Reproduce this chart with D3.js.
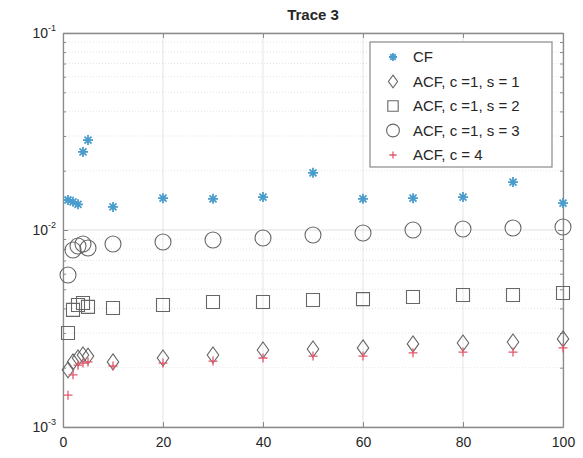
<!DOCTYPE html>
<html>
<head>
<meta charset="utf-8">
<script src="https://cdn.jsdelivr.net/npm/d3@7"></script>
<style>
  body { margin: 0; background: #fff; }
  text { font-family: "Liberation Sans", Arial, sans-serif; fill: #262626; }
</style>
</head>
<body>
<div id="vis"></div>
<script>
// sample positions shared by every series
const xs = [1, 2, 3, 4, 5, 10, 20, 30, 40, 50, 60, 70, 80, 90, 100];

const cf   = [0.0142, 0.0139, 0.0135, 0.0249, 0.0286, 0.0131, 0.0145, 0.0144, 0.0147, 0.0195, 0.0144, 0.0145, 0.0147, 0.0175, 0.0137];
const acf1 = [0.00195, 0.00214, 0.00224, 0.00232, 0.00229, 0.00214, 0.00224, 0.00232, 0.00246, 0.00249, 0.00252, 0.00264, 0.00267, 0.00270, 0.00280];
const acf2 = [0.00300, 0.00393, 0.00416, 0.00426, 0.00407, 0.00402, 0.00416, 0.00431, 0.00431, 0.00441, 0.00446, 0.00457, 0.00468, 0.00468, 0.00479];
const acf3 = [0.00591, 0.00792, 0.00829, 0.00849, 0.00810, 0.00849, 0.00869, 0.00890, 0.00911, 0.00943, 0.00966, 0.0100, 0.01012, 0.01024, 0.01036];
const acf4 = [0.00145, 0.00184, 0.00206, 0.00211, 0.00214, 0.00204, 0.00211, 0.00216, 0.00224, 0.00229, 0.00229, 0.00238, 0.00240, 0.00240, 0.00252];

const xTicks = [0, 20, 40, 60, 80, 100];
const yTicks = [1e-3, 1e-2, 1e-1];
const legendLabels = ["CF", "ACF, c =1, s = 1", "ACF, c =1, s = 2", "ACF, c =1, s = 3", "ACF, c = 4"];
const title = "Trace 3";

const width = 583, height = 458;
const margin = { top: 33, right: 20, bottom: 31, left: 63 };
const innerW = width - margin.left - margin.right;
const innerH = height - margin.top - margin.bottom;

const svg = d3.select("#vis").append("svg")
  .attr("width", width)
  .attr("height", height);

const x = d3.scaleLinear().domain([0, 100]).range([0, innerW]);
const y = d3.scaleLog().domain([1e-3, 1e-1]).range([innerH, 0]);

const g = svg.append("g")
  .attr("transform", "translate(" + margin.left + "," + margin.top + ")");

// marker shapes, MATLAB-like
const markers = {
  star: s => `M${-s},0L${s},0M0,${-s}L0,${s}M${-s * 0.7},${-s * 0.7}L${s * 0.7},${s * 0.7}M${-s * 0.7},${s * 0.7}L${s * 0.7},${-s * 0.7}`,
  diamond: s => `M0,${-s}L${s * 0.72},0L0,${s}L${-s * 0.72},0Z`,
  square: s => `M${-s},${-s}H${s}V${s}H${-s}Z`,
  circle: s => `M${s},0A${s},${s} 0 1,1 ${-s},0A${s},${s} 0 1,1 ${s},0Z`,
  plus: s => `M${-s},0L${s},0M0,${-s}L0,${s}`
};

const series = [
  { values: cf,   shape: "star",    size: 5,   color: "#4a9ccc", width: 1.8 },
  { values: acf1, shape: "diamond", size: 8,   color: "#666",    width: 1.1 },
  { values: acf2, shape: "square",  size: 6.5, color: "#666",    width: 1.1 },
  { values: acf3, shape: "circle",  size: 8,   color: "#666",    width: 1.1 },
  { values: acf4, shape: "plus",    size: 4.5, color: "#e25a6c", width: 1.3 }
];

// minor grid lines on the log axis
const minor = [];
[1e-3, 1e-2].forEach(d => { for (let k = 2; k <= 9; k++) minor.push(d * k); });
g.append("g").selectAll("line")
  .data(minor)
  .enter().append("line")
  .attr("x1", 0).attr("x2", innerW)
  .attr("y1", d => y(d)).attr("y2", d => y(d))
  .attr("stroke", "#262626").attr("stroke-opacity", 0.12)
  .attr("stroke-dasharray", "1,2");

// major grid
g.append("g").selectAll("line")
  .data(yTicks)
  .enter().append("line")
  .attr("x1", 0).attr("x2", innerW)
  .attr("y1", d => y(d)).attr("y2", d => y(d))
  .attr("stroke", "#262626").attr("stroke-opacity", 0.15);
g.append("g").selectAll("line")
  .data(xTicks)
  .enter().append("line")
  .attr("y1", 0).attr("y2", innerH)
  .attr("x1", d => x(d)).attr("x2", d => x(d))
  .attr("stroke", "#262626").attr("stroke-opacity", 0.12);

// axes, ticks pointing inward
const xAxis = g.append("g")
  .attr("transform", "translate(0," + innerH + ")")
  .call(d3.axisBottom(x).tickValues(xTicks).tickSizeInner(-5).tickSizeOuter(0).tickPadding(10));
const xTop = g.append("g")
  .call(d3.axisTop(x).tickValues(xTicks).tickSizeInner(-5).tickSizeOuter(0).tickFormat(""));
const yAxis = g.append("g")
  .call(d3.axisLeft(y).tickValues(yTicks.concat(minor)).tickSizeInner(-5).tickSizeOuter(0).tickFormat(""));
const yRight = g.append("g")
  .attr("transform", "translate(" + innerW + ",0)")
  .call(d3.axisRight(y).tickValues(yTicks.concat(minor)).tickSizeInner(-5).tickSizeOuter(0).tickFormat(""));

[xAxis, xTop, yAxis, yRight].forEach(a => {
  a.selectAll("path").attr("stroke", "#8a8a8a").attr("stroke-width", 1.3);
  a.selectAll("line").attr("stroke", "#8a8a8a");
});
yAxis.selectAll(".tick line").attr("x2", d => yTicks.includes(d) ? 5 : 3);
yRight.selectAll(".tick line").attr("x2", d => yTicks.includes(d) ? -5 : -3);
xAxis.selectAll("text")
  .style("font-size", "14px")
  .style("font-family", "Liberation Sans, Arial, sans-serif")
  .attr("fill", "#333");

// y labels as 10 with superscript exponent
const yLab = g.append("g").selectAll("text")
  .data(yTicks)
  .enter().append("text")
  .attr("x", -7)
  .attr("y", d => y(d) + 5)
  .attr("text-anchor", "end")
  .attr("fill", "#333")
  .style("font-size", "14px");
yLab.append("tspan").text("10");
yLab.append("tspan")
  .attr("dy", -7)
  .style("font-size", "9px")
  .text(d => "-" + Math.round(-Math.log10(d)));

// points
series.forEach(s => {
  g.append("g").selectAll("path")
    .data(xs.map((d, i) => [d, s.values[i]]))
    .enter().append("path")
    .attr("d", markers[s.shape](s.size))
    .attr("transform", d => "translate(" + x(d[0]) + "," + y(d[1]) + ")")
    .attr("fill", "none")
    .attr("stroke", s.color)
    .attr("stroke-width", s.width);
});

// title
svg.append("text")
  .attr("x", margin.left + innerW / 2)
  .attr("y", 20)
  .attr("text-anchor", "middle")
  .style("font-size", "15px")
  .style("font-weight", "bold")
  .text(title);

// legend
const legend = svg.append("g").attr("transform", "translate(370,42)");
legend.append("rect")
  .attr("width", 182).attr("height", 125)
  .attr("fill", "#fff").attr("stroke", "#8a8a8a").attr("stroke-width", 1.2);
const item = legend.selectAll(".item")
  .data(series)
  .enter().append("g")
  .attr("transform", (d, i) => "translate(23," + (15 + i * 24.5) + ")");
item.append("path")
  .attr("d", d => markers[d.shape](d.size * 0.8))
  .attr("fill", "none")
  .attr("stroke", d => d.color)
  .attr("stroke-width", d => d.width);
item.append("text")
  .attr("x", 20)
  .attr("y", 5)
  .attr("fill", "#333")
  .style("font-size", "15px")
  .text((d, i) => legendLabels[i]);
</script>
</body>
</html>
